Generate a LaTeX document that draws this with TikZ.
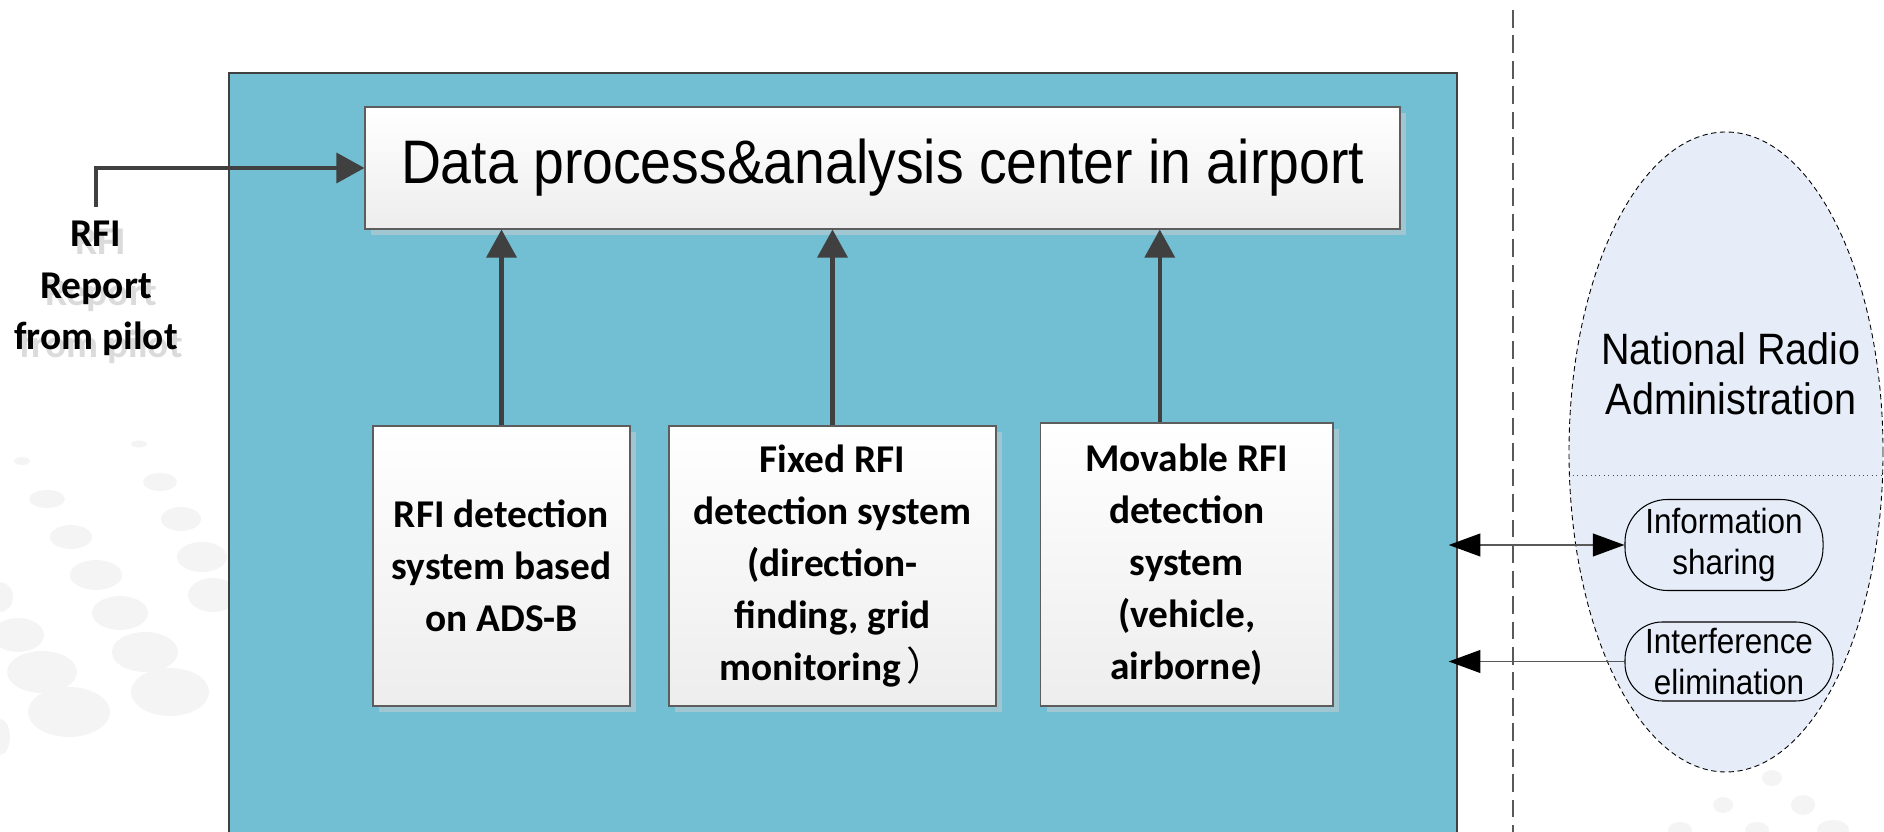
\documentclass[tikz,border=0pt]{standalone}
\usepackage{fontspec}
\setmainfont{Carlito}
\newfontfamily\arialfont[FakeStretch=0.9]{Liberation Sans}
\newfontfamily\cjkfont{Noto Sans CJK SC}
\usetikzlibrary{arrows.meta,shapes.geometric,shadows}

\definecolor{zoneblue}{RGB}{114,190,211}
\definecolor{shadeblue}{RGB}{160,198,210}
\definecolor{nrafill}{RGB}{230,237,248}
\definecolor{linegray}{RGB}{64,64,64}
\definecolor{dotgray}{RGB}{244,244,244}

\tikzset{
  sysbox/.style={draw=linegray!85,line width=0.6pt,shading=axis,top color=white,bottom color=black!7,
    drop shadow={shadow xshift=0.12cm,shadow yshift=-0.12cm,fill=shadeblue,opacity=1},
    align=center,inner sep=0pt,font=\fontsize{22.4}{29.6}\selectfont\bfseries},
  pilottext/.style={align=center,inner sep=0pt,font=\fontsize{22.4}{29.3}\selectfont\bfseries},
  feed/.style={draw=linegray,line width=2.3pt,-{Triangle[length=16pt,width=17pt]}},
  link/.style={draw=black!65,line width=0.8pt,>={Triangle[length=18pt,width=13pt,color=black]}},
  duty/.style={draw,line width=0.6pt,inner sep=0pt,align=center,font=\arialfont\fontsize{19.9}{22.8}\selectfont},
  sepline/.style={draw=black!65,line width=0.7pt,dash pattern=on 10pt off 4.5pt}
}

\begin{document}
\begin{tikzpicture}
\useasboundingbox (0,0) rectangle (37.68,16.64);
\foreach \x/\y/\a/\b in {0.44/7.42/0.16/0.08,2.78/7.76/0.16/0.07,0.94/6.66/0.36/0.18,3.20/7.00/0.34/0.18,
  1.42/5.90/0.42/0.24,3.62/6.26/0.40/0.24,1.92/5.14/0.52/0.30,4.04/5.50/0.50/0.30,2.40/4.38/0.56/0.34,
  4.26/4.74/0.50/0.34,2.90/3.60/0.66/0.40,3.40/2.80/0.78/0.48,0.84/3.20/0.70/0.42,1.38/2.40/0.82/0.50,
  0.36/3.94/0.52/0.34,0/4.70/0.26/0.30,0/1.90/0.20/0.36,35.44/1.08/0.20/0.16,36.06/0.54/0.24/0.20,
  34.46/0.54/0.20/0.16,36.66/0.04/0.32/0.20,35.14/0.04/0.24/0.16,33.60/0.04/0.24/0.16}
  \fill[dotgray] (\x,\y) ellipse ({\a cm} and {\b cm});

\node[draw=linegray,line width=0.8pt,fill=zoneblue,minimum width=24.56cm,minimum height=15.38cm,inner sep=0pt] (zone) at (16.86,7.49) {};

\node[sysbox,minimum width=20.70cm,minimum height=2.44cm,font=\arialfont\fontsize{35}{40}\selectfont] (datacenter) at (17.65,13.28) {Data process\&analysis center in airport};
\node[sysbox,minimum width=5.14cm,minimum height=5.60cm] (ads) at (10.03,5.32) {RFI detection\\system based\\on ADS-B};
\node[sysbox,minimum width=6.54cm,minimum height=5.60cm] (fixed) at (16.65,5.32) {Fixed RFI\\detection system\\(direction-\\finding, grid\\monitoring\hspace{3pt}{\cjkfont\mdseries ）}};
\node[sysbox,minimum width=5.85cm,minimum height=5.66cm] (movable) at (23.735,5.35) {Movable RFI\\detection\\system\\(vehicle,\\airborne)};

\node[pilottext,text=black!14] (pilotshade) at (2.02,10.72) {RFI\\Report\\from pilot};
\node[pilottext] (pilot) at (1.92,10.87) {RFI\\Report\\from pilot};

\draw[feed] ([yshift=0.28cm]pilot.north) |- (datacenter.west);
\draw[feed] (ads.north) -- (ads.north |- datacenter.south);
\draw[feed] (fixed.north) -- (fixed.north |- datacenter.south);
\draw[feed] ([xshift=-0.54cm]movable.north) -- ([xshift=-0.54cm]movable.north |- datacenter.south);

\draw[sepline] (30.26,16.44) -- (30.26,-0.1);

\node[ellipse,draw,line width=0.5pt,dash pattern=on 3pt off 2pt,fill=nrafill,minimum width=6.28cm,minimum height=12.80cm,inner sep=0pt] (nra) at (34.52,7.60) {};
\draw[black!70,line width=0.5pt,dotted] ([yshift=-0.46cm]nra.west) -- ([yshift=-0.46cm]nra.east);
\node[align=center,font=\arialfont\fontsize{25}{28.5}\selectfont] (nralabel) at (34.62,9.16) {National Radio\\Administration};

\node[duty,minimum width=3.96cm,minimum height=1.82cm,rounded corners=0.85cm] (share) at (34.48,5.74) {Information\\sharing};
\node[duty,minimum width=4.16cm,minimum height=1.58cm,rounded corners=0.75cm] (clear) at (34.58,3.41) {Interference\\elimination};

\draw[link,<->,shorten <=-0.18cm] (share.west -| zone.east) -- (share.west);
\draw[link,<-,shorten <=-0.18cm] (clear.west -| zone.east) -- (clear.west);
\end{tikzpicture}
\end{document}
